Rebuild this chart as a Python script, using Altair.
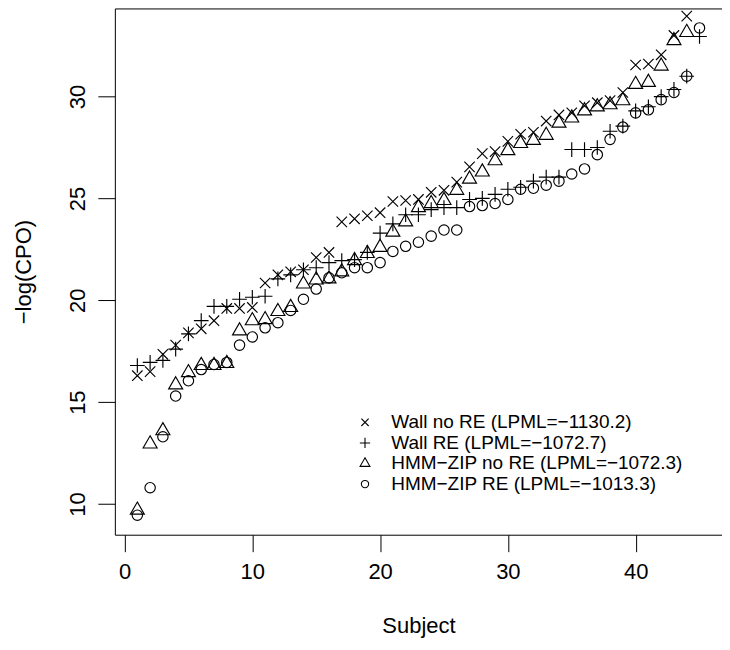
import altair as alt
import pandas as pd

series_names = [
    "Wall no RE (LPML=\u22121130.2)",
    "Wall RE (LPML=\u22121072.7)",
    "HMM\u2212ZIP no RE (LPML=\u22121072.3)",
    "HMM\u2212ZIP RE (LPML=\u22121013.3)",
]

wall_nore = [16.3, 16.5, 17.35, 17.8, 18.4, 18.6, 19.0, 19.6, 19.6, 19.65,
             20.85, 21.25, 21.4, 21.5, 22.1, 22.35, 23.85, 24.0, 24.15, 24.3,
             24.85, 24.9, 24.95, 25.3, 25.4, 25.8, 26.55, 27.2, 27.3, 27.8,
             28.15, 28.25, 28.8, 29.1, 29.2, 29.55, 29.7, 29.8, 30.2, 31.55,
             31.6, 32.05, 33.0, 33.95]

wall_re = [16.8, 16.95, 17.05, 17.6, 18.35, 19.0, 19.7, 19.7, 20.05, 20.15,
           20.2, 21.05, 21.25, 21.5, 21.6, 21.85, 21.95, 22.0, 22.35, 23.3,
           23.75, 24.2, 24.2, 24.45, 24.55, 24.55, 24.95, 25.0, 25.2, 25.45,
           25.55, 25.85, 26.05, 26.05, 27.4, 27.4, 27.5, 28.3, 28.55, 29.3,
           29.5, 30.0, 30.35, 31.0, 32.95]

hmm_nore = [9.7, 12.95, 13.6, 15.85, 16.45, 16.8, 16.8, 16.9, 18.5, 19.0,
            19.05, 19.45, 19.65, 20.8, 21.0, 21.05, 21.4, 21.95, 22.3, 22.6,
            23.35, 23.85, 24.55, 24.75, 24.9, 25.4, 25.95, 26.3, 26.85, 27.35,
            27.7, 27.85, 28.1, 28.7, 28.95, 29.3, 29.5, 29.6, 29.8, 30.6,
            30.7, 31.5, 32.75, 33.15]

hmm_re = [9.45, 10.8, 13.3, 15.3, 16.05, 16.6, 16.85, 16.95, 17.8, 18.2,
          18.65, 18.9, 19.5, 20.05, 20.55, 21.1, 21.35, 21.6, 21.6, 21.85,
          22.4, 22.65, 22.85, 23.15, 23.45, 23.45, 24.6, 24.65, 24.75, 24.95,
          25.45, 25.5, 25.65, 25.85, 26.2, 26.45, 27.15, 27.9, 28.5, 29.2,
          29.35, 29.85, 30.2, 31.0, 33.37]

x_ticks = [0, 10, 20, 30, 40]
y_ticks = [10, 15, 20, 25, 30]

rows = []
for name, vals in zip(series_names, [wall_nore, wall_re, hmm_nore, hmm_re]):
    for i, v in enumerate(vals, start=1):
        rows.append({"subject": i, "cpo": v, "series": name})
df = pd.DataFrame(rows)

shape_paths = [
    "M-0.612,-0.612L0.612,0.612M-0.612,0.612L0.612,-0.612",
    "M-0.865,0L0.865,0M0,-0.865L0,0.865",
    "M0,-0.952L0.824,0.476L-0.824,0.476Z",
    "M0.612,0A0.612,0.612,0,1,1,-0.612,0A0.612,0.612,0,1,1,0.612,0Z",
]

FONT = "Liberation Sans"

chart = alt.Chart(df).mark_point(
    filled=False, size=289, strokeWidth=1.15, color="black", opacity=1
).encode(
    x=alt.X("subject:Q",
            scale=alt.Scale(domain=[-0.76, 46.76], nice=False, zero=False),
            axis=alt.Axis(values=x_ticks, title="Subject", tickSize=17,
                          labelPadding=10, titleX=304, titleY=98,
                          titleBaseline="alphabetic")),
    y=alt.Y("cpo:Q",
            scale=alt.Scale(domain=[8.493, 34.327], nice=False, zero=False),
            axis=alt.Axis(values=y_ticks, title="\u2212log(CPO)", tickSize=17,
                          labelAngle=270, labelAlign="center",
                          labelBaseline="alphabetic", labelPadding=13,
                          titleX=-84, titleY=263.5, titleAngle=270,
                          titleBaseline="alphabetic")),
    shape=alt.Shape("series:N",
                    scale=alt.Scale(domain=series_names, range=shape_paths),
                    legend=alt.Legend(title=None, orient="none", legendX=241,
                                      legendY=405, padding=0, symbolSize=142,
                                      symbolStrokeWidth=1.1,
                                      symbolStrokeColor="black",
                                      symbolFillColor="transparent",
                                      labelFont=FONT, labelFontSize=19,
                                      labelColor="black", labelOffset=16.75,
                                      labelLimit=500, rowPadding=0.6)),
).properties(
    width=608, height=527,
    autosize=alt.AutoSizeParams(type="none"),
    padding={"left": 107, "top": 0, "right": 0, "bottom": 104},
).configure_view(
    stroke="black", strokeWidth=1
).configure_axis(
    grid=False, domain=False, tickColor="black", tickWidth=1,
    labelFont=FONT, labelFontSize=22, labelColor="black",
    titleFont=FONT, titleFontSize=22, titleColor="black",
    titleFontWeight="normal"
)

chart.save("out.html", embed_options={"renderer": "svg", "actions": False})
